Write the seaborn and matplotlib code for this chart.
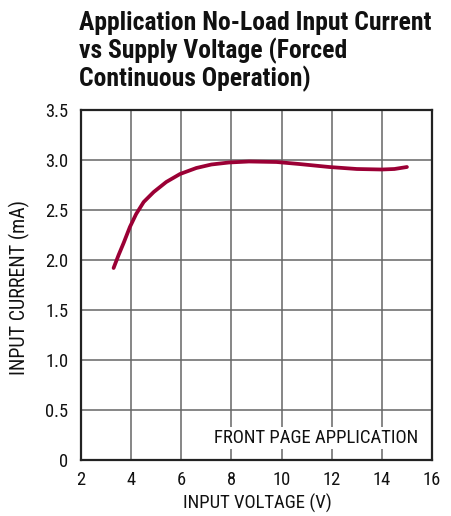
import matplotlib
matplotlib.use("Agg")
import matplotlib.pyplot as plt
from matplotlib import font_manager
import seaborn as sns
import pandas as pd

voltage = [3.3, 3.5, 3.7, 3.95, 4.2, 4.5, 4.9, 5.4, 5.95, 6.6, 7.2, 7.9, 8.7, 9.8, 10.7, 11.9, 13.0, 14.0, 14.5, 15.0]
current = [1.92, 2.05, 2.17, 2.33, 2.46, 2.58, 2.68, 2.78, 2.86, 2.92, 2.955, 2.975, 2.985, 2.98, 2.96, 2.93, 2.91, 2.905, 2.91, 2.93]
x_ticks = [2, 4, 6, 8, 10, 12, 14, 16]
y_ticks = [0, 0.5, 1.0, 1.5, 2.0, 2.5, 3.0, 3.5]
title_lines = ["Application No-Load Input Current", "vs Supply Voltage (Forced", "Continuous Operation)"]

sns.set_theme(style="white")
names = {f.name for f in font_manager.fontManager.ttflist}
cands = ["Roboto Condensed", "Archivo Narrow", "PT Sans Narrow", "Fira Sans Condensed",
         "IBM Plex Sans Condensed", "Encode Sans Condensed", "Asap Condensed", "Barlow Semi Condensed",
         "Encode Sans Semi Condensed", "DejaVu Sans"]
fam = next(c for c in cands if c in names)
plt.rcParams['font.family'] = [fam, 'DejaVu Sans']

W, H = 451, 516
df = pd.DataFrame({"v": voltage, "i": current})
fig = plt.figure(figsize=(W/100, H/100), dpi=100)
ax = fig.add_axes([81/W, 1-460/H, (432-81)/W, 350/H])
sns.lineplot(data=df, x="v", y="i", ax=ax, color="#9B0035", linewidth=2.7, zorder=3)
ax.set_xlim(2, 16)
ax.set_ylim(0, 3.5)
ax.set_xticks(x_ticks)
ax.set_xticklabels([str(t) for t in x_ticks])
ax.set_yticks(y_ticks)
ax.set_yticklabels([f"{t:.1f}" if t else "0" for t in y_ticks])
ax.grid(True, color="#666666", linewidth=1.1)
ax.set_axisbelow(True)
for s in ax.spines.values():
    s.set_color("#222222")
    s.set_linewidth(1.6)
ax.tick_params(direction="in", length=4, width=1, colors="#222222", labelsize=13, labelcolor="#111111")
ax.tick_params(axis="y", pad=9)
ax.tick_params(axis="x", pad=8)
xl = ax.set_xlabel("INPUT VOLTAGE (V)", fontsize=15, color="#111111", va="center", ha="center")
yl = ax.set_ylabel("INPUT CURRENT (mA)", fontsize=15, color="#111111", va="center", ha="center")
ax.xaxis.set_label_coords((257-81)/351, (460-503)/350)
ax.yaxis.set_label_coords((19-81)/351, (460-287.5)/350)
box = ax.text(15.45, 0.22, "FRONT PAGE APPLICATION", ha="right", va="center", fontsize=15, color="#111111",
              bbox=dict(facecolor="white", edgecolor="none", pad=2), zorder=4)
titles = []
for line, base in zip(title_lines, [30, 58, 86]):
    titles.append(fig.text(79/W, 1-base/H, line, ha="left", va="baseline", fontsize=20,
                           fontweight="bold", color="#111111"))

def fit(txt, target, vertical=False):
    fig.canvas.draw()
    bb = txt.get_window_extent()
    cur = bb.height if vertical else bb.width
    txt.set_fontsize(txt.get_fontsize() * target / cur)

fit(titles[0], 351)
for t in titles[1:]:
    t.set_fontsize(titles[0].get_fontsize())
fit(xl, 150)
fit(yl, 175, vertical=True)
fit(box, 206)
fig.canvas.draw()
tl = ax.get_yticklabels()[-1]
wcur = tl.get_window_extent().width
ax.tick_params(labelsize=13 * 23 / wcur)
fig.savefig("out.png", dpi=100)
